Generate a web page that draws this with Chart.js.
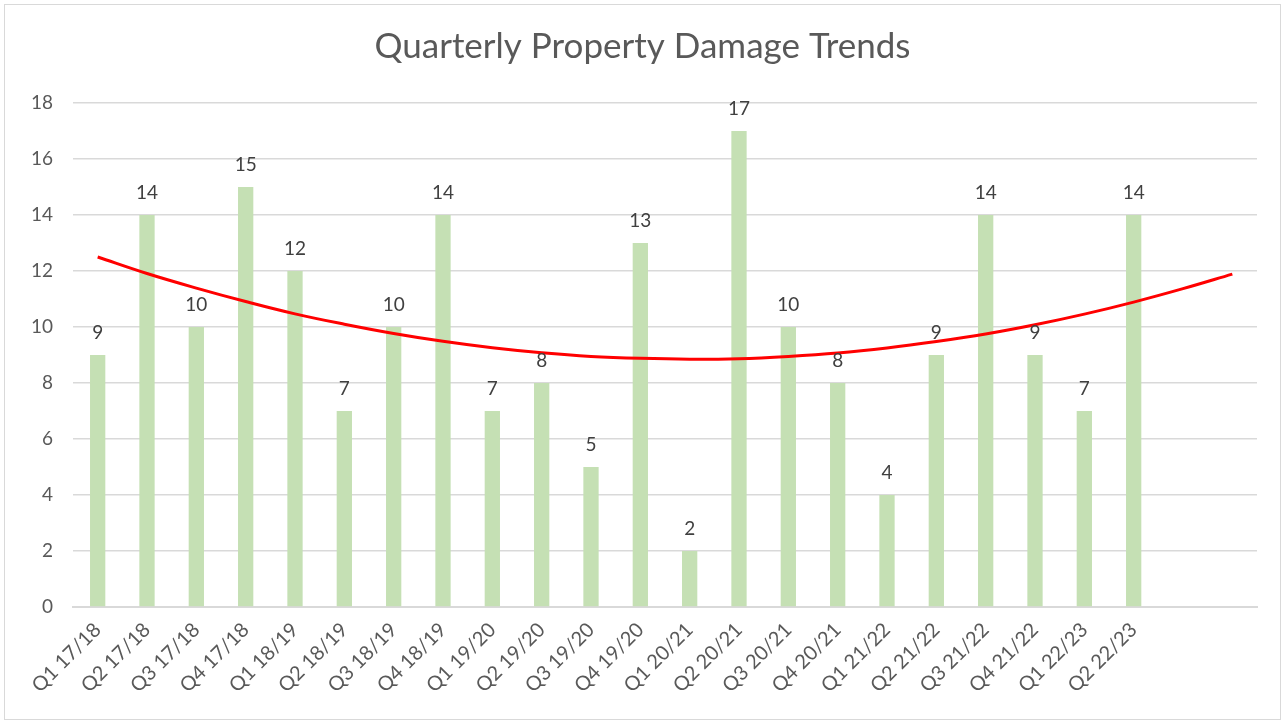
<!DOCTYPE html>
<html>
<head>
<meta charset="utf-8">
<script src="https://cdn.jsdelivr.net/npm/chart.js@4"></script>
<style>
  html, body { margin: 0; padding: 0; background: #fff; }
  #wrap { position: absolute; left: 4px; top: 4px; width: 1275px; height: 714px; border: 1px solid #d9d9d9; }
  canvas { display: block; }
</style>
</head>
<body>
<div id="wrap"><canvas id="chart" width="1275" height="714"></canvas></div>
<script>
// quarters (two trailing blanks: trendline is forecast 2 periods forward)
const quarters = ['Q1 17/18','Q2 17/18','Q3 17/18','Q4 17/18','Q1 18/19','Q2 18/19','Q3 18/19','Q4 18/19',
  'Q1 19/20','Q2 19/20','Q3 19/20','Q4 19/20','Q1 20/21','Q2 20/21','Q3 20/21','Q4 20/21',
  'Q1 21/22','Q2 21/22','Q3 21/22','Q4 21/22','Q1 22/23','Q2 22/23','',''];
const damageCounts = [9,14,10,15,12,7,10,14,7,8,5,13,2,17,10,8,4,9,14,9,7,14];
// polynomial trendline at each category
const trendValues = [12.5,11.91,11.39,10.91,10.47,10.10,9.77,9.49,9.26,9.08,8.95,8.88,
  8.85,8.87,8.95,9.07,9.25,9.48,9.75,10.08,10.46,10.89,11.37,11.89];
const yTicks = [0,2,4,6,8,10,12,14,16,18];

const FONT = "Lato, 'Open Sans', sans-serif";

const barLabels = {
  id: 'barLabels',
  afterDatasetsDraw(chart) {
    const ctx = chart.ctx;
    const meta = chart.getDatasetMeta(1);
    ctx.save();
    ctx.font = '19px ' + FONT;
    ctx.fillStyle = '#404040';
    ctx.textAlign = 'center';
    ctx.textBaseline = 'bottom';
    meta.data.forEach(function(bar, i){
      ctx.fillText(String(damageCounts[i]), bar.x, bar.y - 13);
    });
    ctx.restore();
  }
};

new Chart(document.getElementById('chart').getContext('2d'), {
  data: {
    labels: quarters,
    datasets: [
      {type: 'line', label: 'Trend', data: trendValues, borderColor: '#ff0000', borderWidth: 3,
       pointRadius: 0, tension: 0.4, fill: false, order: 0},
      {type: 'bar', label: 'Property Damage', data: damageCounts, backgroundColor: '#c5e0b4',
       categoryPercentage: 1, barPercentage: 0.31, order: 1}
    ]
  },
  options: {
    responsive: false,
    animation: false,
    layout: {padding: {left: 23, right: 23, top: 0, bottom: 0}},
    plugins: {
      legend: {display: false},
      tooltip: {enabled: false},
      title: {display: true, text: 'Quarterly Property Damage Trends', color: '#595959',
        font: {family: FONT, size: 35, weight: 'normal'}, padding: {top: 21, bottom: 35}}
    },
    scales: {
      x: {
        grid: {display: false},
        border: {color: '#d9d9d9', width: 2},
        ticks: {color: '#595959', font: {family: FONT, size: 20}, maxRotation: 45, minRotation: 45, autoSkip: false},
        afterFit(axis) { axis.height = 112; }
      },
      y: {
        min: 0, max: 18,
        afterBuildTicks(axis) { axis.ticks = yTicks.map(v => ({value: v})); },
        grid: {color: '#d9d9d9', lineWidth: 1.5, drawTicks: false},
        border: {display: false},
        ticks: {color: '#595959', font: {family: FONT, size: 19}, padding: 20},
        afterFit(axis) { axis.width = 45; }
      }
    }
  },
  plugins: [barLabels]
});
</script>
</body>
</html>
